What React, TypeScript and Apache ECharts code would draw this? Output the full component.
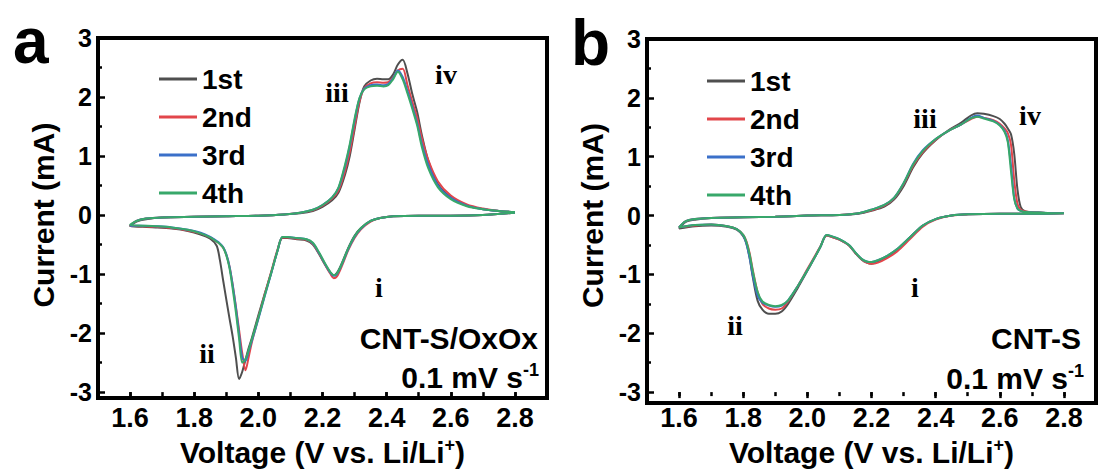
import React, { useEffect, useRef } from "react";
import * as echarts from "echarts";

// ---------- Data ----------
const SERIES_NAMES = ["1st", "2nd", "3rd", "4th"];
const SERIES_COLORS = ["#4f4f4f", "#e2464b", "#3b70c9", "#38a86a"];
const X_TICKS = [1.6, 1.8, 2.0, 2.2, 2.4, 2.6, 2.8];

// Panel a (CNT-S/OxOx): cathodic sweep 2.8 -> 1.6 V
const VA_CATH = [2.8, 2.7, 2.6, 2.5, 2.42, 2.38, 2.35, 2.32, 2.3, 2.28, 2.26, 2.245, 2.235, 2.225, 2.21, 2.19, 2.17, 2.15, 2.12, 2.09, 2.075, 2.06, 2.04, 2.02, 2.0, 1.98, 1.97, 1.96, 1.95, 1.94, 1.93, 1.92, 1.91, 1.9, 1.89, 1.88, 1.87, 1.85, 1.82, 1.78, 1.73, 1.68, 1.64, 1.6];
const A_CATH_1ST = [0.04, 0.0, -0.01, -0.01, -0.02, -0.05, -0.1, -0.22, -0.35, -0.56, -0.82, -0.98, -1.02, -0.98, -0.86, -0.67, -0.5, -0.43, -0.41, -0.39, -0.39, -0.6, -0.98, -1.33, -1.7, -2.08, -2.25, -2.45, -2.65, -2.78, -2.42, -2.06, -1.75, -1.43, -1.1, -0.76, -0.52, -0.4, -0.33, -0.27, -0.23, -0.21, -0.2, -0.19];
const A_CATH_2ND = [0.04, 0.0, -0.01, -0.01, -0.02, -0.05, -0.11, -0.24, -0.39, -0.6, -0.87, -1.04, -1.07, -1.0, -0.86, -0.66, -0.49, -0.42, -0.4, -0.38, -0.38, -0.58, -0.96, -1.34, -1.74, -2.15, -2.4, -2.63, -2.35, -1.95, -1.55, -1.18, -0.87, -0.67, -0.55, -0.49, -0.45, -0.38, -0.31, -0.26, -0.22, -0.2, -0.19, -0.18];
const A_CATH_3RD = [0.04, 0.0, -0.01, -0.01, -0.02, -0.05, -0.1, -0.23, -0.37, -0.58, -0.84, -1.0, -1.03, -0.98, -0.85, -0.65, -0.48, -0.41, -0.39, -0.37, -0.37, -0.6, -0.99, -1.37, -1.76, -2.13, -2.3, -2.47, -2.42, -2.02, -1.57, -1.19, -0.87, -0.66, -0.54, -0.48, -0.44, -0.37, -0.3, -0.25, -0.21, -0.19, -0.18, -0.18];
const A_CATH_4TH = [0.04, 0.0, -0.01, -0.01, -0.02, -0.05, -0.1, -0.22, -0.36, -0.57, -0.83, -0.99, -1.02, -0.97, -0.84, -0.64, -0.47, -0.41, -0.39, -0.37, -0.37, -0.6, -0.98, -1.36, -1.74, -2.1, -2.28, -2.44, -2.5, -2.1, -1.65, -1.25, -0.9, -0.68, -0.55, -0.49, -0.45, -0.38, -0.31, -0.25, -0.21, -0.19, -0.18, -0.17];
// Panel a: anodic sweep 1.6 -> 2.8 V
const VA_AN = [1.6, 1.62, 1.65, 1.7, 1.8, 1.9, 2.0, 2.08, 2.13, 2.17, 2.2, 2.23, 2.25, 2.27, 2.285, 2.3, 2.315, 2.33, 2.35, 2.37, 2.39, 2.405, 2.42, 2.435, 2.45, 2.465, 2.48, 2.495, 2.51, 2.53, 2.56, 2.6, 2.65, 2.7, 2.75, 2.8];
const A_AN_1ST = [-0.19, -0.11, -0.07, -0.04, -0.03, -0.02, -0.01, 0.01, 0.03, 0.07, 0.14, 0.25, 0.38, 0.68, 1.0, 1.45, 1.9, 2.18, 2.28, 2.31, 2.3, 2.3, 2.38, 2.55, 2.63, 2.4, 2.05, 1.75, 1.35, 0.92, 0.52, 0.3, 0.16, 0.1, 0.07, 0.05];
const A_AN_2ND = [-0.18, -0.1, -0.06, -0.04, -0.03, -0.02, -0.01, 0.01, 0.04, 0.08, 0.16, 0.28, 0.42, 0.74, 1.07, 1.5, 1.92, 2.15, 2.23, 2.25, 2.24, 2.25, 2.33, 2.45, 2.48, 2.2, 1.92, 1.65, 1.3, 0.93, 0.57, 0.33, 0.18, 0.11, 0.07, 0.05];
const A_AN_3RD = [-0.18, -0.1, -0.06, -0.04, -0.03, -0.02, -0.01, 0.01, 0.04, 0.09, 0.17, 0.3, 0.46, 0.82, 1.17, 1.6, 1.97, 2.14, 2.2, 2.21, 2.2, 2.22, 2.32, 2.45, 2.34, 2.1, 1.84, 1.56, 1.2, 0.85, 0.5, 0.29, 0.16, 0.1, 0.07, 0.05];
const A_AN_4TH = [-0.17, -0.1, -0.06, -0.04, -0.03, -0.02, -0.01, 0.01, 0.04, 0.09, 0.17, 0.3, 0.47, 0.85, 1.2, 1.63, 1.98, 2.13, 2.18, 2.19, 2.18, 2.2, 2.3, 2.43, 2.3, 2.06, 1.8, 1.52, 1.15, 0.79, 0.47, 0.27, 0.15, 0.1, 0.07, 0.05];

// Panel b (CNT-S): cathodic sweep 2.8 -> 1.6 V
const VB_CATH = [2.8, 2.7, 2.6, 2.5, 2.45, 2.4, 2.36, 2.32, 2.28, 2.25, 2.22, 2.2, 2.185, 2.17, 2.15, 2.13, 2.1, 2.075, 2.06, 2.04, 2.02, 2.0, 1.97, 1.94, 1.92, 1.9, 1.88, 1.86, 1.845, 1.83, 1.82, 1.81, 1.8, 1.78, 1.75, 1.7, 1.65, 1.6];
const B_CATH_1ST = [0.04, 0.03, 0.03, 0.02, 0.0, -0.06, -0.17, -0.37, -0.58, -0.7, -0.78, -0.82, -0.8, -0.75, -0.64, -0.51, -0.41, -0.36, -0.34, -0.54, -0.74, -0.94, -1.23, -1.5, -1.63, -1.67, -1.67, -1.6, -1.45, -1.05, -0.72, -0.48, -0.35, -0.24, -0.19, -0.17, -0.18, -0.22];
const B_CATH_2ND = [0.04, 0.03, 0.03, 0.02, 0.0, -0.07, -0.19, -0.4, -0.61, -0.72, -0.8, -0.82, -0.8, -0.75, -0.64, -0.51, -0.41, -0.36, -0.34, -0.53, -0.72, -0.91, -1.2, -1.46, -1.58, -1.6, -1.58, -1.5, -1.3, -0.93, -0.64, -0.44, -0.33, -0.23, -0.18, -0.15, -0.17, -0.2];
const B_CATH_3RD = [0.04, 0.03, 0.03, 0.02, 0.0, -0.06, -0.17, -0.37, -0.57, -0.68, -0.76, -0.79, -0.78, -0.74, -0.63, -0.5, -0.4, -0.35, -0.33, -0.54, -0.74, -0.93, -1.2, -1.44, -1.53, -1.55, -1.53, -1.48, -1.36, -1.02, -0.72, -0.48, -0.34, -0.23, -0.18, -0.15, -0.16, -0.2];
const B_CATH_4TH = [0.04, 0.03, 0.03, 0.02, 0.0, -0.06, -0.17, -0.37, -0.57, -0.68, -0.76, -0.79, -0.78, -0.74, -0.63, -0.5, -0.4, -0.35, -0.33, -0.54, -0.74, -0.93, -1.2, -1.44, -1.52, -1.54, -1.52, -1.46, -1.3, -0.95, -0.66, -0.45, -0.33, -0.23, -0.18, -0.15, -0.16, -0.2];
// Panel b: anodic sweep 1.6 -> 2.8 V
const VB_AN = [1.6, 1.62, 1.65, 1.7, 1.8, 1.9, 2.0, 2.1, 2.16, 2.2, 2.24, 2.27, 2.3, 2.33, 2.36, 2.4, 2.44, 2.48, 2.51, 2.53, 2.55, 2.58, 2.6, 2.615, 2.625, 2.635, 2.645, 2.655, 2.665, 2.68, 2.72, 2.76, 2.8];
const B_AN_1ST = [-0.22, -0.11, -0.07, -0.04, -0.03, -0.02, 0.0, 0.01, 0.03, 0.08, 0.15, 0.27, 0.5, 0.82, 1.06, 1.28, 1.45, 1.58, 1.7, 1.74, 1.73, 1.69, 1.64, 1.56, 1.48, 1.38, 1.05, 0.45, 0.15, 0.07, 0.05, 0.04, 0.04];
const B_AN_2ND = [-0.2, -0.1, -0.06, -0.04, -0.03, -0.02, 0.0, 0.01, 0.04, 0.09, 0.17, 0.29, 0.53, 0.85, 1.08, 1.29, 1.44, 1.55, 1.64, 1.68, 1.66, 1.62, 1.56, 1.48, 1.4, 1.2, 0.6, 0.2, 0.1, 0.07, 0.05, 0.04, 0.04];
const B_AN_3RD = [-0.2, -0.1, -0.06, -0.04, -0.03, -0.02, 0.0, 0.01, 0.04, 0.1, 0.18, 0.3, 0.55, 0.88, 1.11, 1.3, 1.44, 1.55, 1.66, 1.7, 1.66, 1.61, 1.54, 1.44, 1.28, 0.85, 0.3, 0.12, 0.08, 0.06, 0.05, 0.04, 0.04];
const B_AN_4TH = [-0.2, -0.1, -0.06, -0.04, -0.03, -0.02, 0.0, 0.01, 0.04, 0.1, 0.18, 0.3, 0.55, 0.87, 1.1, 1.3, 1.44, 1.55, 1.65, 1.68, 1.65, 1.6, 1.53, 1.42, 1.25, 0.75, 0.28, 0.12, 0.08, 0.06, 0.05, 0.04, 0.04];

const A_CATH = [A_CATH_1ST, A_CATH_2ND, A_CATH_3RD, A_CATH_4TH];
const A_AN = [A_AN_1ST, A_AN_2ND, A_AN_3RD, A_AN_4TH];
const B_CATH = [B_CATH_1ST, B_CATH_2ND, B_CATH_3RD, B_CATH_4TH];
const B_AN = [B_AN_1ST, B_AN_2ND, B_AN_3RD, B_AN_4TH];

// ---------- Layout / styling ----------
const SANS = '"Liberation Sans", Arial, Helvetica, sans-serif';
const SERIF = '"Liberation Serif", "Times New Roman", serif';
const GRIDS = [
  { left: 98, top: 38, width: 449, height: 360 },
  { left: 647, top: 39, width: 449, height: 364 },
];
const FRAME_W = 4;

function loop(vc: number[], ic: number[], va: number[], ia: number[]) {
  const pts: number[][] = [];
  vc.forEach((v, i) => pts.push([v, ic[i]]));
  va.forEach((v, i) => pts.push([v, ia[i]]));
  return pts;
}

function xAxes(gridIndex: number, gap: number) {
  return [
    {
      type: "value",
      gridIndex,
      min: 1.5,
      max: 2.9,
      position: "bottom",
      axisLine: { show: false, onZero: false },
      splitLine: { show: false },
      axisTick: {
        show: true,
        customValues: X_TICKS,
        length: 6,
        lineStyle: { color: "#000", width: 2.5 },
      },
      axisLabel: {
        customValues: X_TICKS,
        formatter: (v: number) => v.toFixed(1),
        fontSize: 27,
        fontWeight: "bold",
        fontFamily: SANS,
        color: "#000",
        margin: 12,
      },
      name: "{t|Voltage (V vs. Li/Li}{s|+}{t|)}",
      nameLocation: "middle",
      nameGap: gap,
      nameTextStyle: {
        rich: {
          t: { fontSize: 30, fontWeight: "bold", fontFamily: SANS, color: "#000", lineHeight: 32 },
          s: { fontSize: 18, fontWeight: "bold", fontFamily: SANS, color: "#000", verticalAlign: "top", lineHeight: 32 },
        },
      },
    },
    {
      type: "value",
      gridIndex,
      min: 1.5,
      max: 2.9,
      interval: 0.1,
      position: "bottom",
      axisLine: { show: false, onZero: false },
      splitLine: { show: false },
      axisLabel: { show: false },
      axisTick: { show: true, length: 4, lineStyle: { color: "#000", width: 2.5 } },
    },
  ];
}

function yAxis(gridIndex: number) {
  return {
    type: "value",
    gridIndex,
    min: -3,
    max: 3,
    interval: 1,
    position: "left",
    axisLine: { show: false, onZero: false },
    splitLine: { show: false },
    axisTick: { show: true, inside: true, length: 7, lineStyle: { color: "#000", width: 2.5 } },
    minorTick: { show: true, splitNumber: 2, length: 4, lineStyle: { color: "#000", width: 2.5 } },
    axisLabel: { fontSize: 25, fontWeight: "bold", fontFamily: SANS, color: "#000", margin: 6 },
    name: "Current (mA)",
    nameLocation: "middle",
    nameRotate: 90,
    nameGap: 40,
    nameTextStyle: { fontSize: 30, fontWeight: "bold", fontFamily: SANS, color: "#000" },
  };
}

function legend(left: number, top: number) {
  return {
    data: SERIES_NAMES,
    orient: "vertical",
    left,
    top,
    icon: "rect",
    itemWidth: 38,
    itemHeight: 3,
    itemGap: 8,
    selectedMode: false,
    textStyle: {
      fontSize: 28,
      fontWeight: "bold",
      fontFamily: SANS,
      color: "#000",
      lineHeight: 30,
    },
  };
}

// frame of a plot box, drawn as four filled bars
function frame(g: { left: number; top: number; width: number; height: number }) {
  const h = FRAME_W / 2;
  const bar = (x: number, y: number, w: number, hh: number) => ({
    type: "rect",
    silent: true,
    z: 100,
    shape: { x, y, width: w, height: hh },
    style: { fill: "#000" },
  });
  return [
    bar(g.left - h, g.top - h, g.width + FRAME_W, FRAME_W),
    bar(g.left - h, g.top + g.height - h, g.width + FRAME_W, FRAME_W),
    bar(g.left - h, g.top - h, FRAME_W, g.height + FRAME_W),
    bar(g.left + g.width - h, g.top - h, FRAME_W, g.height + FRAME_W),
  ];
}

function txt(text: string, x: number, y: number, font: string, align = "center") {
  return {
    type: "text",
    x,
    y,
    silent: true,
    style: { text, font, fill: "#000", textAlign: align, textVerticalAlign: "middle" },
  };
}

function rateText(x: number, y: number) {
  return {
    type: "text",
    x,
    y,
    silent: true,
    style: {
      text: "{t|0.1 mV s}{s|-1}",
      textAlign: "right",
      textVerticalAlign: "middle",
      rich: {
        t: { fontSize: 30, fontWeight: "bold", fontFamily: SANS, fill: "#000", lineHeight: 32 },
        s: { fontSize: 18, fontWeight: "bold", fontFamily: SANS, fill: "#000", verticalAlign: "top", lineHeight: 32 },
      },
    },
  };
}

export default function App() {
  const ref = useRef<HTMLDivElement>(null);

  useEffect(() => {
    document.body.style.margin = "0";
    document.body.style.overflow = "hidden";
    if (!ref.current) return;
    const chart = echarts.init(ref.current, null, { renderer: "svg" });

    const series: any[] = [];
    SERIES_NAMES.forEach((name, k) => {
      series.push({
        type: "line",
        name,
        xAxisIndex: 0,
        yAxisIndex: 0,
        data: loop(VA_CATH, A_CATH[k], VA_AN, A_AN[k]),
        showSymbol: false,
        symbol: "none",
        smooth: 0.3,
        color: SERIES_COLORS[k],
        lineStyle: { width: 2, color: SERIES_COLORS[k] },
        z: 2 + k,
      });
    });
    SERIES_NAMES.forEach((name, k) => {
      series.push({
        type: "line",
        name,
        xAxisIndex: 2,
        yAxisIndex: 1,
        data: loop(VB_CATH, B_CATH[k], VB_AN, B_AN[k]),
        showSymbol: false,
        symbol: "none",
        smooth: 0.3,
        color: SERIES_COLORS[k],
        lineStyle: { width: 2, color: SERIES_COLORS[k] },
        z: 2 + k,
      });
    });

    const boldSans = (s: number) => `bold ${s}px ${SANS}`;
    const boldSerif = (s: number) => `bold ${s}px ${SERIF}`;

    chart.setOption({
      animation: false,
      backgroundColor: "#fff",
      grid: GRIDS,
      xAxis: [...xAxes(0, 36), ...xAxes(1, 32)],
      yAxis: [yAxis(0), yAxis(1)],
      legend: [legend(154, 59), legend(702, 61)],
      series,
      graphic: [
        ...frame(GRIDS[0]),
        ...frame(GRIDS[1]),
        txt("a", 13, 41, boldSans(64), "left"),
        txt("b", 571, 43, boldSans(64), "left"),
        // panel a annotations
        txt("iii", 337, 92, boldSerif(28)),
        txt("iv", 446, 74, boldSerif(28)),
        txt("i", 379, 287, boldSerif(28)),
        txt("ii", 207, 353, boldSerif(28)),
        txt("CNT-S/OxOx", 538, 338, boldSans(30), "right"),
        rateText(539, 377),
        // panel b annotations
        txt("iii", 925, 118, boldSerif(28)),
        txt("iv", 1030, 115, boldSerif(28)),
        txt("i", 915, 287, boldSerif(28)),
        txt("ii", 735, 325, boldSerif(28)),
        txt("CNT-S", 1081, 338, boldSans(30), "right"),
        rateText(1084, 378),
      ],
    });

    return () => chart.dispose();
  }, []);

  return <div ref={ref} style={{ width: 1099, height: 472 }} />;
}
